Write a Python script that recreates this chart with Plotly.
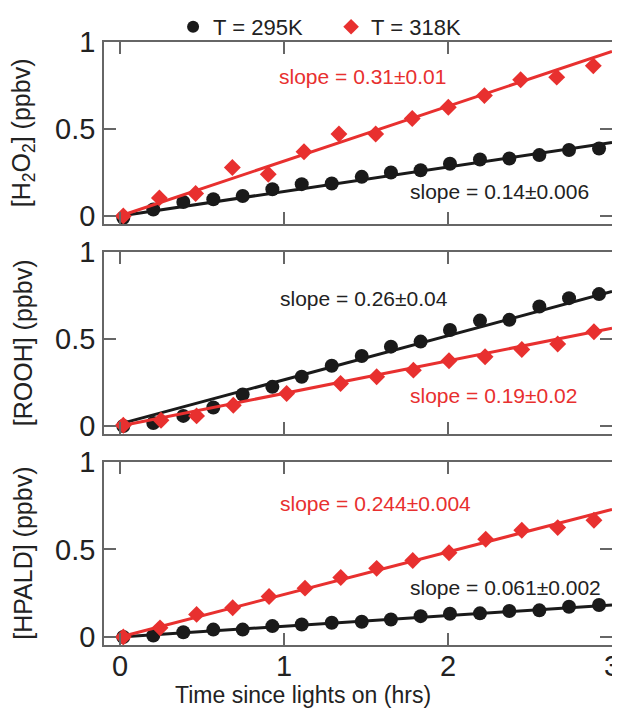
import plotly.graph_objects as go

# ---------------- data ----------------
x_295 = [0.020, 0.203, 0.386, 0.569, 0.748, 0.929, 1.108, 1.291, 1.474, 1.652,
         1.833, 2.012, 2.195, 2.374, 2.557, 2.738, 2.921]

# H2O2
h2o2_x_318 = [0.020, 0.240, 0.461, 0.685, 0.904, 1.122, 1.335, 1.559, 1.782, 2.002,
              2.222, 2.443, 2.663, 2.886]
h2o2_295 = [-0.010, 0.037, 0.080, 0.096, 0.115, 0.154, 0.183, 0.187, 0.225, 0.250,
            0.263, 0.300, 0.325, 0.330, 0.350, 0.379, 0.388]
h2o2_318 = [0.000, 0.104, 0.129, 0.279, 0.240, 0.369, 0.471, 0.471, 0.560, 0.625,
            0.692, 0.783, 0.798, 0.863]
h2o2_fit_295 = [0.0, 0.423]
h2o2_fit_318 = [0.0, 0.946]

# ROOH
rooh_x_318 = [0.020, 0.250, 0.467, 0.691, 1.016, 1.345, 1.565, 1.789, 2.006, 2.226,
              2.450, 2.669, 2.890]
rooh_295 = [0.000, 0.017, 0.058, 0.106, 0.181, 0.225, 0.283, 0.346, 0.402, 0.456,
            0.485, 0.552, 0.606, 0.610, 0.687, 0.735, 0.758]
rooh_318 = [0.004, 0.033, 0.058, 0.119, 0.187, 0.244, 0.283, 0.321, 0.375, 0.398,
            0.440, 0.471, 0.542]
rooh_fit_295 = [0.012, 0.773]
rooh_fit_318 = [0.0, 0.562]

# HPALD
hpald_x_318 = [0.020, 0.244, 0.467, 0.687, 0.909, 1.128, 1.346, 1.565, 1.785, 2.006,
               2.230, 2.450, 2.669, 2.890]
hpald_295 = [0.000, 0.008, 0.027, 0.042, 0.042, 0.062, 0.071, 0.081, 0.087, 0.100,
             0.119, 0.133, 0.135, 0.148, 0.152, 0.173, 0.183]
hpald_318 = [0.000, 0.052, 0.129, 0.167, 0.231, 0.279, 0.340, 0.392, 0.437, 0.481,
             0.558, 0.610, 0.625, 0.667]
hpald_fit_295 = [0.0, 0.183]
hpald_fit_318 = [0.0, 0.729]

fit_x = [0.0, 3.0]

x_ticks = [0, 1, 2, 3]
x_ticktext = ["0", "1", "2", "3"]
y_ticks = [0, 0.5, 1]
y_ticktext = ["0", "0.5", "1"]

legend_names = ["T = 295K", "T = 318K"]
y_titles = ["[H<sub>2</sub>O<sub>2</sub>] (ppbv)", "[ROOH] (ppbv)", "[HPALD] (ppbv)"]
x_title = "Time since lights on (hrs)"

slope_labels = [
    ("slope = 0.14±0.006", "slope = 0.31±0.01"),
    ("slope = 0.26±0.04", "slope = 0.19±0.02"),
    ("slope = 0.061±0.002", "slope = 0.244±0.004"),
]
slope_pos_295 = [(2.317, 0.138), (1.486, 0.735), (2.348, 0.283)]
slope_pos_318 = [(1.48, 0.80), (2.28, 0.177), (1.559, 0.763)]

# ---------------- style ----------------
BLACK = "#1a1a1a"
RED = "#e8302f"
FRAME = "#666666"
TEXT = "#222222"
FONT = "Liberation Sans, Arial, Helvetica, sans-serif"

panels = [
    (x_295, h2o2_295, h2o2_x_318, h2o2_318, h2o2_fit_295, h2o2_fit_318),
    (x_295, rooh_295, rooh_x_318, rooh_318, rooh_fit_295, rooh_fit_318),
    (x_295, hpald_295, hpald_x_318, hpald_318, hpald_fit_295, hpald_fit_318),
]
domains = [[0.6982, 1.0], [0.3499, 0.6517], [0.0, 0.3035]]

fig = go.Figure()

for i, (xb, yb, xr, yr, fb, fr) in enumerate(panels):
    n = i + 1
    xa = "x" if n == 1 else f"x{n}"
    ya = "y" if n == 1 else f"y{n}"
    fig.add_trace(go.Scatter(x=fit_x, y=fb, mode="lines", line=dict(color=BLACK, width=3),
                             xaxis=xa, yaxis=ya, showlegend=False, hoverinfo="skip"))
    fig.add_trace(go.Scatter(x=xb, y=yb, mode="markers", name=legend_names[0],
                             marker=dict(symbol="circle", size=14, color=BLACK),
                             xaxis=xa, yaxis=ya, showlegend=(n == 1)))
    fig.add_trace(go.Scatter(x=fit_x, y=fr, mode="lines", line=dict(color=RED, width=3),
                             xaxis=xa, yaxis=ya, showlegend=False, hoverinfo="skip"))
    fig.add_trace(go.Scatter(x=xr, y=yr, mode="markers", name=legend_names[1],
                             marker=dict(symbol="diamond", size=13, color=RED),
                             xaxis=xa, yaxis=ya, showlegend=(n == 1)))

axis_common = dict(showline=True, linecolor=FRAME, linewidth=1.5, mirror="ticks",
                   ticks="inside", ticklen=12, tickwidth=1.5, tickcolor=FRAME,
                   showgrid=False, zeroline=False, automargin=False,
                   ticklabeloverflow="allow",
                   tickfont=dict(family=FONT, size=29, color=TEXT))

layout_axes = {}
for i in range(3):
    n = i + 1
    xkey = "xaxis" if n == 1 else f"xaxis{n}"
    ykey = "yaxis" if n == 1 else f"yaxis{n}"
    layout_axes[xkey] = dict(axis_common, range=[-0.0976, 3.0], domain=[0, 1],
                             anchor="y" if n == 1 else f"y{n}",
                             tickvals=x_ticks, ticktext=x_ticktext,
                             showticklabels=(n == 3), ticklabelstandoff=-6)
    layout_axes[ykey] = dict(axis_common, range=[-0.046, 1.0], domain=domains[i],
                             anchor="x" if n == 1 else f"x{n}",
                             tickvals=y_ticks, ticktext=y_ticktext,
                             ticklabelstandoff=1)

fig.update_layout(**layout_axes)

annotations = []
for i in range(3):
    n = i + 1
    xr = "x" if n == 1 else f"x{n}"
    yr = "y" if n == 1 else f"y{n}"
    (t295, t318) = slope_labels[i]
    annotations.append(dict(x=slope_pos_295[i][0], y=slope_pos_295[i][1], xref=xr, yref=yr,
                            text=t295, showarrow=False,
                            font=dict(family=FONT, size=21, color=TEXT)))
    annotations.append(dict(x=slope_pos_318[i][0], y=slope_pos_318[i][1], xref=xr, yref=yr,
                            text=t318, showarrow=False,
                            font=dict(family=FONT, size=21, color=RED)))
    annotations.append(dict(x=-0.159, y=0.5, xref="paper", yref=f"{yr} domain",
                            text=y_titles[i], showarrow=False, textangle=-90,
                            xanchor="center", yanchor="middle",
                            font=dict(family=FONT, size=25, color=TEXT)))

annotations.append(dict(x=0.392, y=-0.083, xref="paper", yref="paper", text=x_title,
                        showarrow=False, xanchor="center", yanchor="middle",
                        font=dict(family=FONT, size=23, color=TEXT)))

# the page body adds an 8 px offset, so the figure is drawn 8 px smaller
fig.update_layout(
    width=612, height=702,
    margin=dict(l=96, r=8, t=34, b=65, autoexpand=False),
    paper_bgcolor="white", plot_bgcolor="white",
    font=dict(family=FONT, color=TEXT),
    showlegend=True,
    legend=dict(orientation="h", x=0.136, xref="paper",
                y=1.025, yref="paper", xanchor="left", yanchor="middle",
                font=dict(family=FONT, size=22, color=TEXT),
                entrywidth=113, entrywidthmode="pixels",
                bgcolor="rgba(0,0,0,0)", borderwidth=0,
                itemsizing="constant"),
    annotations=annotations,
)

fig.write_html("out.html")
